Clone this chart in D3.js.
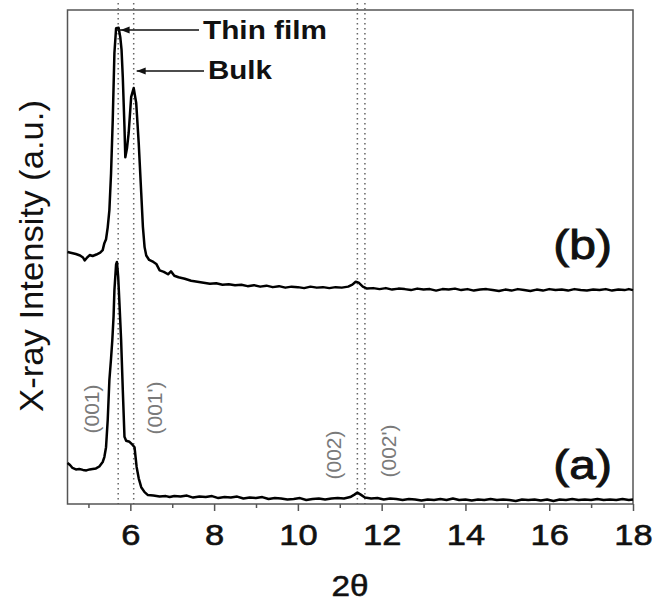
<!DOCTYPE html>
<html>
<head>
<meta charset="utf-8">
<script src="https://cdn.jsdelivr.net/npm/d3@7"></script>
<style>
  html, body { margin: 0; padding: 0; background: #fff; }
  svg { display: block; }
  text { font-family: "Liberation Sans", Arial, sans-serif; }
</style>
</head>
<body>
<svg id="chart" width="670" height="604"></svg>
<script>
// ---------- data ----------
const thetaA = [4.50,4.56,4.62,4.70,4.78,4.87,4.95,5.03,5.10,5.18,5.26,5.34,5.38,5.42,5.46,5.50,5.54,5.57,5.60,5.62,5.66,5.68,5.71,5.74,5.78,5.82,5.86,5.90,5.98,6.05,6.10,6.15,6.20,6.26,6.34,6.42,6.55,6.70,6.85,6.94,7.05,
  7.20,7.35,7.50,7.65,7.80,7.95,8.10,8.25,8.40,8.55,8.70,8.85,9.00,9.15,9.30,9.45,9.60,9.75,9.90,10.05,10.20,10.35,10.50,10.65,10.80,10.95,11.10,11.25,11.35,11.42,11.50,11.60,11.75,11.90,12.05,12.20,12.35,12.50,12.65,12.80,12.95,13.10,13.25,13.40,13.55,13.70,13.85,14.00,14.15,14.30,14.45,14.60,14.75,14.90,15.05,15.20,15.35,15.50,15.65,15.80,15.95,16.10,16.25,16.40,16.55,16.70,16.85,17.00,17.15,17.30,17.45,17.60,17.75,17.90,18.00];
const intensityA = [8.3,7.9,7.3,7.0,7.1,6.9,6.8,7.0,7.1,7.2,7.6,8.5,9.5,11.5,17.0,25.1,29.5,33.2,38.0,43.3,48.5,49.0,46.0,40.7,33.2,23.1,13.6,12.8,12.6,12.0,11.5,7.5,5.2,3.4,2.4,1.8,1.7,1.5,1.6,1.4,1.6,
  1.5,1.7,1.3,1.5,1.4,1.6,1.2,1.4,1.3,1.5,1.1,1.3,1.2,1.4,1.0,1.2,1.1,0.9,1.0,1.2,0.8,1.0,1.1,0.9,1.1,1.2,1.1,1.4,1.9,2.3,1.9,1.3,1.1,1.2,0.9,1.1,1.0,0.8,1.0,0.9,0.7,0.9,0.8,1.0,0.8,1.1,0.8,0.9,0.7,0.9,0.8,1.0,0.8,0.9,0.8,0.6,0.9,0.8,0.9,0.7,0.9,0.6,0.9,0.8,1.0,0.8,0.9,0.8,1.0,0.8,0.9,0.8,1.0,0.8,0.9];

const thetaB = [4.50,4.60,4.70,4.80,4.87,4.91,4.96,5.03,5.10,5.19,5.28,5.34,5.38,5.42,5.46,5.50,5.54,5.58,5.62,5.66,5.72,5.76,5.79,5.82,5.86,5.88,5.92,5.96,6.02,6.08,6.14,6.20,6.26,6.30,6.34,6.38,6.45,6.55,6.62,6.70,6.80,6.90,6.97,7.05,7.15,7.30,7.45,7.60,7.75,7.90,8.05,8.20,8.35,8.50,8.65,8.80,8.95,9.10,9.25,9.40,9.55,9.70,9.85,10.00,10.15,10.30,10.45,10.60,10.75,10.90,11.05,11.20,11.30,11.38,11.45,11.55,11.65,11.80,11.95,12.10,12.25,12.40,12.55,12.70,12.85,13.00,13.15,13.30,13.45,13.60,13.75,13.90,14.05,14.20,14.35,14.50,14.65,14.80,14.95,15.10,15.25,15.40,15.55,15.70,15.85,16.00,16.15,16.30,16.45,16.60,16.75,16.90,17.05,17.20,17.35,17.50,17.65,17.80,17.90,18.00];
const intensityB = [51.0,50.8,50.6,50.3,49.9,49.3,49.8,50.4,50.2,50.5,50.9,51.4,52.8,53.6,56.0,59.5,67.0,77.7,91.3,96.3,96.4,94.5,92.0,86.4,76.3,70.2,72.0,75.1,82.4,84.2,81.2,73.1,63.0,56.1,52.0,50.3,49.4,49.0,48.6,47.3,47.0,46.5,47.1,46.2,45.9,45.6,45.2,45.0,44.8,44.6,44.7,44.4,44.5,44.3,44.4,44.1,44.3,44.0,44.2,43.9,44.1,43.8,44.0,43.9,43.7,44.0,43.8,43.9,43.7,43.9,43.8,44.0,44.4,45.0,44.8,44.0,43.6,43.7,43.5,43.7,43.4,43.6,43.5,43.3,43.6,43.4,43.5,43.2,43.5,43.4,43.6,43.3,43.5,43.2,43.4,43.5,43.3,43.1,43.4,43.2,43.5,43.3,43.1,43.4,43.2,43.5,43.3,43.4,43.2,43.5,43.3,43.2,43.4,43.3,43.5,43.2,43.4,43.3,43.5,43.3];

const xTicksMajor = [6, 8, 10, 12, 14, 16, 18];
const xTicksMinor = [5, 7, 9, 11, 13, 15, 17];
const peakLines = [5.71, 6.08, 11.42, 11.60];
const peakLabels = ["(001)", "(001')", "(002)", "(002')"];
const seriesLabels = ["(a)", "(b)"];
const arrowLabels = ["Thin film", "Bulk"];
const xTitle = "2\u03b8";
const yTitle = "X-ray Intensity (a.u.)";

// ---------- layout ----------
const L = 67.5, R = 633, T = 10, B = 504;
const svg = d3.select("#chart");
const x = d3.scaleLinear().domain([4.5, 18]).range([L, R]);
const y = d3.scaleLinear().domain([0, 100]).range([B, T]);

// dotted reference lines
svg.append("g").selectAll("line").data(peakLines).join("line")
  .attr("x1", d => x(d)).attr("x2", d => x(d))
  .attr("y1", 3).attr("y2", B)
  .attr("stroke", "#666").attr("stroke-width", 1.5)
  .attr("stroke-dasharray", "1.6,3.4");

// frame
svg.append("rect").attr("x", L).attr("y", T).attr("width", R - L).attr("height", B - T)
  .attr("fill", "none").attr("stroke", "#555").attr("stroke-width", 1.5);

// x axis
const gx = svg.append("g").attr("transform", `translate(0,${B})`)
  .call(d3.axisBottom(x).tickValues(xTicksMajor).tickSize(7).tickSizeOuter(0).tickFormat(d3.format("d")));
gx.select(".domain").remove();
gx.selectAll(".tick line").attr("stroke", "#555").attr("stroke-width", 1.5);
gx.selectAll(".tick text").attr("y", 41).attr("dy", null)
  .attr("font-size", 30).attr("fill", "#111")
  .attr("stroke", "#111").attr("stroke-width", 0.6)
  .attr("transform", "scale(1.15,1)");
svg.append("g").attr("transform", `translate(0,${B})`)
  .call(d3.axisBottom(x).tickValues(xTicksMinor).tickSize(4).tickFormat(""))
  .call(g => g.select(".domain").remove())
  .selectAll(".tick line").attr("stroke", "#555").attr("stroke-width", 1.5);

// axis titles
svg.append("text").attr("transform", `translate(350,596) scale(1.15,1)`)
  .attr("text-anchor", "middle").attr("font-size", 29).attr("fill", "#111")
  .attr("stroke", "#111").attr("stroke-width", 0.5).text(xTitle);
svg.append("text").attr("transform", `translate(43,256) rotate(-90)`)
  .attr("text-anchor", "middle").attr("font-size", 34).attr("fill", "#111")
  .attr("textLength", 312).attr("lengthAdjust", "spacingAndGlyphs").text(yTitle);

// curves
const line = d3.line().x(d => x(d[0])).y(d => y(d[1]));
const dataA = thetaA.map((t, i) => [t, intensityA[i]]);
const dataB = thetaB.map((t, i) => [t, intensityB[i]]);
[dataA, dataB].forEach(d => {
  svg.append("path").datum(d).attr("d", line)
    .attr("fill", "none").attr("stroke", "#000").attr("stroke-width", 2.5)
    .attr("stroke-linejoin", "round");
});

// peak labels (rotated, gray)
const lblPos = [[98.5, 409], [162, 408], [341, 455], [396, 451]];
svg.append("g").selectAll("text").data(peakLabels).join("text")
  .attr("transform", (d, i) => `translate(${lblPos[i][0]},${lblPos[i][1]}) rotate(-90)`)
  .attr("text-anchor", "middle").attr("font-size", 21).attr("fill", "#7a7a7a").text(d => d);

// series labels
[[seriesLabels[0], 479], [seriesLabels[1], 259]].forEach(([t, by]) => {
  svg.append("text").attr("transform", `translate(612,${by}) scale(1.2,1)`)
    .attr("text-anchor", "end").attr("font-size", 40).attr("fill", "#111")
    .attr("stroke", "#111").attr("stroke-width", 0.9).text(t);
});

// arrow annotations
const arrows = [
  { tip: x(5.72) + 2, lineStart: x(5.68), y: 30, textX: 203, textY: 39, len: 124 },
  { tip: x(6.08) + 3, lineStart: x(6.08) + 3, y: 71, textX: 208, textY: 79, len: 64 }
];
arrows.forEach((a, i) => {
  svg.append("line").attr("x1", a.lineStart).attr("x2", a.textX - 4)
    .attr("y1", a.y).attr("y2", a.y).attr("stroke", "#111").attr("stroke-width", 1.6);
  svg.append("path")
    .attr("d", `M${a.tip},${a.y} L${a.tip + 9},${a.y - 3.5} L${a.tip + 9},${a.y + 3.5} Z`)
    .attr("fill", "#111");
  svg.append("text").attr("x", a.textX).attr("y", a.textY)
    .attr("font-size", 26).attr("font-weight", "bold").attr("fill", "#111")
    .attr("textLength", a.len).attr("lengthAdjust", "spacingAndGlyphs")
    .text(arrowLabels[i]);
});
</script>
</body>
</html>
